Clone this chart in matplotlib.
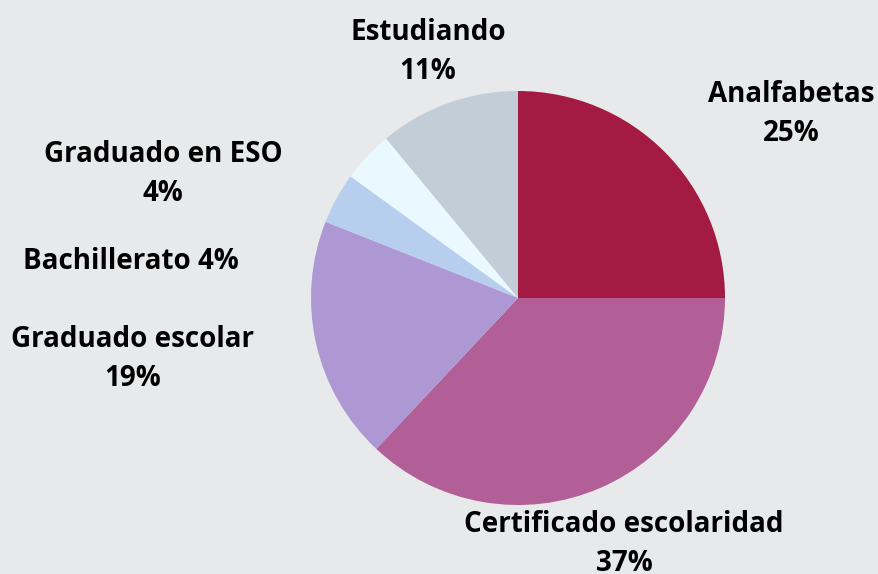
import matplotlib.pyplot as plt

# Data
categories = ['Analfabetas', 'Certificado escolaridad', 'Graduado escolar',
              'Bachillerato', 'Graduado en ESO', 'Estudiando']
shares = [25, 37, 19, 4, 4, 11]
colors = ['#a31a42', '#b25e97', '#ad98d3', '#b8ceee', '#eaf8ff', '#c3cdd7']

bg = '#e8e9eb'
plt.rcParams['font.family'] = ['Open Sans', 'DejaVu Sans']

fig = plt.figure(figsize=(8.79, 5.74), dpi=100, facecolor=bg)
ax = fig.add_axes([0, 0, 1, 1])
ax.set_facecolor(bg)

# pie in pixel-like coordinates
ax.pie(shares, colors=colors, startangle=90, counterclock=False,
       center=(518, 276), radius=207, frame=True,
       wedgeprops=dict(linewidth=0))
ax.set_xlim(0, 879)
ax.set_ylim(0, 574)
ax.set_aspect('equal')
ax.axis('off')

# label positions (x, y) in pixels from bottom-left
label_pos = [(791, 460), (624, 30), (133, 215), (131, 313), (163, 400), (428, 522)]
for name, val, (x, y) in zip(categories, shares, label_pos):
    if name == 'Bachillerato':
        txt = f'{name} {val}%'
    else:
        txt = f'{name}\n{val}%'
    ax.text(x, y, txt, ha='center', va='center', fontsize=20,
            fontweight='bold', color='black', linespacing=1.45)

fig.savefig('out.png', dpi=100, facecolor=bg)
